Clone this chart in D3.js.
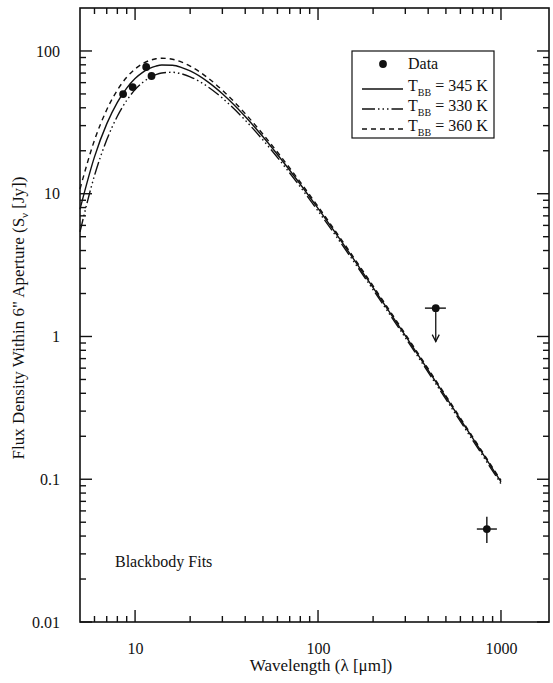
<!DOCTYPE html>
<html>
<head>
<meta charset="utf-8">
<script src="https://cdn.jsdelivr.net/npm/d3@7.9.0/dist/d3.min.js"></script>
<style>
  body { margin: 0; background: #fff; }
  svg text { font-family: "Liberation Serif", "DejaVu Serif", serif; fill: #111; }
</style>
</head>
<body>
<svg id="chart" width="553" height="683"></svg>
<script>
// blackbody fit curves
const wavelengths = [5, 6, 7, 8, 9, 10, 11, 12, 13, 14, 16, 18, 20, 25, 30, 40, 50, 70, 100, 150, 200, 300, 500, 700, 1000];
const fit345 = [7.79, 18.12, 30.85, 43.65, 54.95, 64.04, 70.81, 75.46, 78.30, 79.70, 79.40, 76.55, 72.42, 60.73, 50.14, 34.73, 25.07, 14.61, 7.889, 3.774, 2.201, 1.014, 0.3754, 0.1939, 0.0959];
const fit330 = [5.41, 13.40, 23.85, 34.89, 45.06, 53.59, 60.22, 65.04, 68.24, 70.12, 70.90, 69.11, 65.95, 56.13, 46.78, 32.76, 23.80, 13.97, 7.575, 3.637, 2.125, 0.9802, 0.3635, 0.1878, 0.0929];
const fit360 = [10.80, 23.71, 38.75, 53.18, 65.40, 74.83, 81.52, 85.81, 88.16, 88.98, 87.46, 83.47, 78.35, 64.82, 53.07, 36.40, 26.12, 15.14, 8.135, 3.879, 2.259, 1.039, 0.3843, 0.1983, 0.0980];

// mid-IR photometry
const dataWave = [8.6, 9.7, 11.5, 12.3];
const dataFlux = [49.9, 55.9, 77.2, 66.8];

// submm: 450 um upper limit, 850 um detection
const limitWave = 440, limitFlux = 1.58, limitArrowTo = 0.92, limitBand = [384, 500];
const detWave = 837, detFlux = 0.0448, detErr = [0.0357, 0.0545], detBand = [738, 950];

const xMajor = [10, 100, 1000];
const xMinor = [6, 7, 8, 9, 20, 30, 40, 50, 60, 70, 80, 90, 200, 300, 400, 500, 600, 700, 800, 900];
const yMajor = [0.01, 0.1, 1, 10, 100];
const yMinor = [];
[0.01, 0.1, 1, 10].forEach(d => { for (let k = 2; k <= 9; k++) yMinor.push(+(d * k).toPrecision(3)); });

const legendItems = [
  { type: 'dot', label: 'Data' },
  { type: 'line', dash: null, T: '345 K' },
  { type: 'line', dash: '13,3,1.5,3,1.5,3,1.5,3', T: '330 K' },
  { type: 'line', dash: '5,4', T: '360 K' }
];

const W = 553, H = 683;
const margin = { top: 8, right: 4, bottom: 61, left: 80 };
const iw = W - margin.left - margin.right;
const ih = H - margin.top - margin.bottom;

const svg = d3.select('#chart');
const g = svg.append('g').attr('transform', `translate(${margin.left},${margin.top})`);

const x = d3.scaleLog().domain([5, 1830]).range([0, iw]);
const y = d3.scaleLog().domain([0.01, 200]).range([ih, 0]);

// tick marks, pointing inward on all four sides
const ink = '#111';
const ticks = g.append('g').attr('stroke', ink).attr('stroke-width', 1.4);
function xTicks(vals, len) {
  vals.forEach(v => {
    ticks.append('line').attr('x1', x(v)).attr('x2', x(v)).attr('y1', ih).attr('y2', ih - len);
    ticks.append('line').attr('x1', x(v)).attr('x2', x(v)).attr('y1', 0).attr('y2', len);
  });
}
function yTicks(vals, len) {
  vals.forEach(v => {
    ticks.append('line').attr('y1', y(v)).attr('y2', y(v)).attr('x1', 0).attr('x2', len);
    ticks.append('line').attr('y1', y(v)).attr('y2', y(v)).attr('x1', iw).attr('x2', iw - len);
  });
}
xTicks(xMajor, 12); xTicks(xMinor, 6);
yTicks(yMajor, 12); yTicks(yMinor, 6);

// tick labels from the axis generators
const fmt = d3.format('~g');
const xa = g.append('g').attr('transform', `translate(0,${ih})`)
  .call(d3.axisBottom(x).tickValues(xMajor).tickSize(0).tickPadding(21).tickFormat(fmt));
const ya = g.append('g')
  .call(d3.axisLeft(y).tickValues(yMajor).tickSize(0).tickPadding(20).tickFormat(fmt));
[xa, ya].forEach(a => {
  a.select('.domain').remove();
  a.selectAll('text').style('font-size', '16px').attr('fill', ink);
});

g.append('rect').attr('width', iw).attr('height', ih)
  .attr('fill', 'none').attr('stroke', ink).attr('stroke-width', 1.6);

// fit curves
const line = d3.line()
  .x(d => x(d[0]))
  .y(d => y(d[1]))
  .curve(d3.curveMonotoneX);

const fits = [
  { values: fit345, dash: null },
  { values: fit330, dash: '13,3,1.5,3,1.5,3,1.5,3' },
  { values: fit360, dash: '5,4' }
];
fits.forEach(f => {
  g.append('path')
    .datum(wavelengths.map((w, i) => [w, f.values[i]]))
    .attr('d', line)
    .attr('fill', 'none')
    .attr('stroke', ink)
    .attr('stroke-width', 1.4)
    .attr('stroke-dasharray', f.dash);
});

// mid-IR points
g.selectAll('circle.pt')
  .data(dataWave.map((w, i) => [w, dataFlux[i]]))
  .join('circle')
  .attr('class', 'pt')
  .attr('cx', d => x(d[0]))
  .attr('cy', d => y(d[1]))
  .attr('r', 3.9)
  .attr('fill', ink);

// 450 um upper limit
g.append('line')
  .attr('x1', x(limitBand[0])).attr('x2', x(limitBand[1]))
  .attr('y1', y(limitFlux)).attr('y2', y(limitFlux))
  .attr('stroke', ink).attr('stroke-width', 1.4);
g.append('line')
  .attr('x1', x(limitWave)).attr('x2', x(limitWave))
  .attr('y1', y(limitFlux)).attr('y2', y(limitArrowTo))
  .attr('stroke', ink).attr('stroke-width', 1.3);
g.append('path')
  .attr('d', `M${x(limitWave) - 3.5},${y(limitArrowTo) - 7}L${x(limitWave)},${y(limitArrowTo)}L${x(limitWave) + 3.5},${y(limitArrowTo) - 7}`)
  .attr('fill', 'none').attr('stroke', ink).attr('stroke-width', 1.3);
g.append('circle')
  .attr('cx', x(limitWave)).attr('cy', y(limitFlux)).attr('r', 3.9).attr('fill', ink);

// 850 um detection
g.append('line')
  .attr('x1', x(detBand[0])).attr('x2', x(detBand[1]))
  .attr('y1', y(detFlux)).attr('y2', y(detFlux))
  .attr('stroke', ink).attr('stroke-width', 1.4);
g.append('line')
  .attr('x1', x(detWave)).attr('x2', x(detWave))
  .attr('y1', y(detErr[0])).attr('y2', y(detErr[1]))
  .attr('stroke', ink).attr('stroke-width', 1.4);
g.append('circle')
  .attr('cx', x(detWave)).attr('cy', y(detFlux)).attr('r', 3.9).attr('fill', ink);

// legend
const lg = svg.append('g').attr('transform', 'translate(352,51)');
lg.append('rect').attr('width', 142).attr('height', 87)
  .attr('fill', '#fff').attr('stroke', ink).attr('stroke-width', 1.2);
const rowY = [15, 37, 57, 77];
legendItems.forEach((it, i) => {
  const ry = rowY[i];
  if (it.type === 'dot') {
    lg.append('circle').attr('cx', 31).attr('cy', ry - 2).attr('r', 3.9).attr('fill', ink);
    lg.append('text').attr('x', 56).attr('y', ry + 3).style('font-size', '16px').text(it.label);
  } else {
    lg.append('line').attr('x1', 10).attr('x2', 51).attr('y1', ry + 1).attr('y2', ry + 1)
      .attr('stroke', ink).attr('stroke-width', 1.4).attr('stroke-dasharray', it.dash);
    const t = lg.append('text').attr('x', 56).attr('y', ry + 3).style('font-size', '16px');
    t.append('tspan').text('T');
    t.append('tspan').attr('dy', 5).style('font-size', '10px').text('BB');
    t.append('tspan').attr('dy', -5).text(' = ' + it.T);
  }
});

g.append('text').attr('x', 35).attr('y', 559).style('font-size', '16px').text('Blackbody Fits');

// axis titles
svg.append('text')
  .attr('x', margin.left + x(100) + 3).attr('y', 671)
  .attr('text-anchor', 'middle').style('font-size', '17px')
  .text('Wavelength (λ [μm])');

const yt = svg.append('text')
  .attr('transform', 'translate(24,318) rotate(-90)')
  .attr('text-anchor', 'middle').style('font-size', '17px');
yt.append('tspan').text('Flux Density Within 6" Aperture (S');
yt.append('tspan').attr('dy', 4).style('font-size', '11px').text('ν');
yt.append('tspan').attr('dy', -4).text(' [Jy])');
</script>
</body>
</html>
